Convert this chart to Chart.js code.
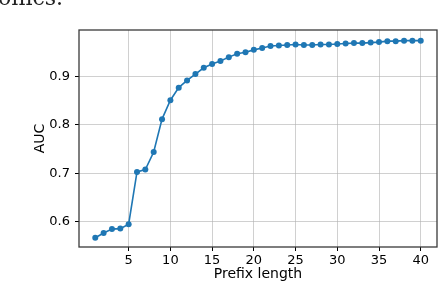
<!DOCTYPE html>
<html>
<head>
<meta charset="utf-8">
<script src="https://cdn.jsdelivr.net/npm/chart.js@4/dist/chart.umd.min.js"></script>
<style>
    body { margin: 0; background: #fff; overflow: hidden; }
    #wrap { position: relative; width: 438px; height: 284px; overflow: hidden; }
    #snippet {
        position: absolute;
        left: -2px;
        top: -13px;
        font: 22px 'DejaVu Serif', serif;
        line-height: 22px;
        color: #222;
        white-space: nowrap;
    }
</style>
</head>
<body>
<div id="wrap">
    <span id="snippet">onics.</span>
    <canvas id="aucChart" width="440" height="284"></canvas>
</div>
<script>
const prefixLengths = [1,2,3,4,5,6,7,8,9,10,11,12,13,14,15,16,17,18,19,20,
    21,22,23,24,25,26,27,28,29,30,31,32,33,34,35,36,37,38,39,40];
const aucValues = [0.567,0.577,0.585,0.586,0.595,0.703,0.708,0.744,0.812,0.851,
    0.877,0.892,0.905,0.918,0.926,0.932,0.940,0.947,0.950,0.955,
    0.959,0.963,0.964,0.965,0.966,0.965,0.965,0.966,0.966,0.967,
    0.968,0.969,0.969,0.970,0.971,0.973,0.973,0.974,0.974,0.974];
const xTicks = [5, 10, 15, 20, 25, 30, 35, 40];
const yTicks = [0.6, 0.7, 0.8, 0.9];

const font = "'DejaVu Sans', sans-serif";

// matplotlib style box round the plot
const frame = {
    id: 'frame',
    afterDraw(chart) {
        const { ctx, chartArea: a } = chart;
        ctx.save();
        ctx.strokeStyle = '#3a3a3a';
        ctx.lineWidth = 1.3;
        ctx.strokeRect(a.left, a.top, a.right - a.left, a.bottom - a.top);
        ctx.restore();
    }
};

new Chart(document.getElementById('aucChart'), {
    type: 'line',
    data: {
        datasets: [{
            data: prefixLengths.map((x, i) => ({ x: x, y: aucValues[i] })),
            borderColor: '#1f77b4',
            backgroundColor: '#1f77b4',
            borderWidth: 1.6,
            pointRadius: 3,
            pointBorderWidth: 0,
            pointHoverRadius: 3,
            tension: 0,
            fill: false
        }]
    },
    options: {
        responsive: false,
        animation: false,
        layout: { padding: { top: 30, right: 1, left: 0, bottom: 0 } },
        plugins: {
            legend: { display: false },
            tooltip: { enabled: false }
        },
        scales: {
            x: {
                type: 'linear',
                min: -0.95,
                max: 41.95,
                afterBuildTicks: s => { s.ticks = xTicks.map(v => ({ value: v })); },
                afterFit: s => { s.height = 37; s.paddingLeft = 0; s.paddingRight = 0; },
                grid: { color: 'rgba(176,176,176,0.6)', lineWidth: 1, tickColor: '#000', tickLength: 4 },
                border: { display: false },
                ticks: { color: '#000', font: { family: font, size: 13 }, padding: 2, maxRotation: 0 },
                title: {
                    display: true,
                    text: 'Prefix length',
                    color: '#000',
                    font: { family: font, size: 14 },
                    padding: { top: 0, bottom: 1 }
                }
            },
            y: {
                min: 0.548,
                max: 0.996,
                afterBuildTicks: s => { s.ticks = yTicks.map(v => ({ value: v })); },
                afterFit: s => { s.width = 79; s.paddingTop = 0; s.paddingBottom = 0; },
                grid: { color: 'rgba(176,176,176,0.6)', lineWidth: 1, tickColor: '#000', tickLength: 4 },
                border: { display: false },
                ticks: {
                    color: '#000',
                    font: { family: font, size: 13 },
                    padding: 5,
                    callback: v => v.toFixed(1)
                },
                title: {
                    display: true,
                    text: 'AUC',
                    color: '#000',
                    font: { family: font, size: 14 },
                    padding: { top: 32, bottom: 0 }
                }
            }
        }
    },
    plugins: [frame]
});
</script>
</body>
</html>
